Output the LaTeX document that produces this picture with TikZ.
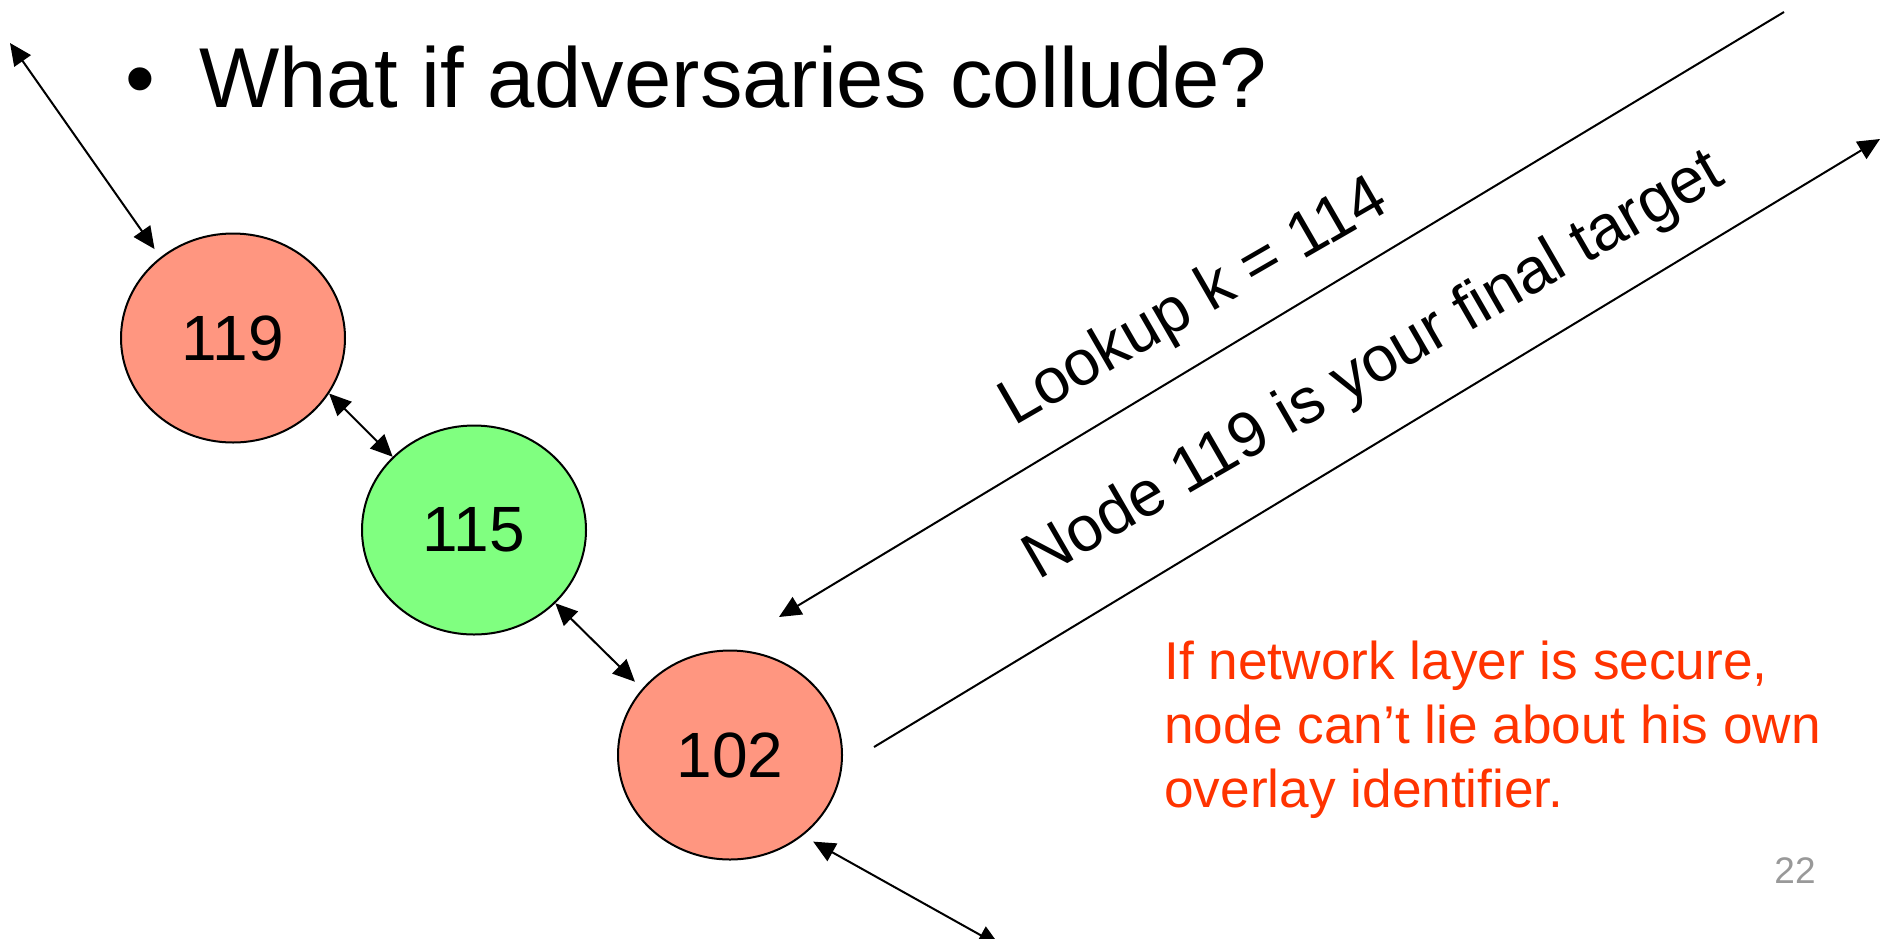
\documentclass[tikz,border=0pt]{standalone}
\usepackage{fontspec}
\setmainfont{Liberation Sans}
\usetikzlibrary{arrows.meta,shapes.geometric}
\definecolor{peerred}{HTML}{FF9680}
\definecolor{peergreen}{HTML}{80FF80}
\definecolor{notered}{HTML}{FF3300}
\definecolor{pagegray}{HTML}{999999}
\begin{document}
\begin{tikzpicture}[x=0.5pt,y=-0.5pt,
  peer/.style={ellipse, draw, line width=1pt, minimum width=112pt,
    minimum height=104.5pt, inner sep=0pt, font=\fontsize{32}{38}\selectfont},
  tip/.style={Triangle[length=11pt,width=10pt]},
  link/.style={line width=1pt, {Triangle[length=11pt,width=10pt]}-{Triangle[length=11pt,width=10pt]}},
  msg/.style={line width=1pt, -{Triangle[length=11pt,width=10pt]}},
  msgtext/.style={inner sep=0pt, anchor=base west, rotate=30, font=\fontsize{32}{38}\selectfont},
  heading/.style={inner sep=0pt, anchor=base west, font=\fontsize{42.5}{51}\selectfont},
  notetext/.style={inner sep=0pt, anchor=base west, text=notered, font=\fontsize{26.6}{32}\selectfont}]
\useasboundingbox (0,0) rectangle (1893,938);
\clip (0,0) rectangle (1893,938);

% bullet line
\node[heading] (bullet) at (125,107) {•};
\node[heading] (title) at (199,107) {What if adversaries collude?};

% overlay peers
\node[peer, fill=peerred] (n119) at (233,338) {119};
\node[peer, fill=peergreen] (n115) at (474,530) {115};
\node[peer, fill=peerred] (n102) at (730,755) {102};

% ring links
\coordinate (ringup) at (10,43);
\coordinate (ringdown) at (1000,946);
\draw[link, shorten >=5pt] (ringup) -- (n119.132);
\draw[link] (n119.-30) -- (n115.138);
\draw[link, shorten >=5pt] (n115.-42) -- (n102.143);
\draw[link, shorten <=6pt] (n102.-48) -- (ringdown);

% lookup request and forged reply
\coordinate (askfrom) at (1784,12);
\coordinate (askto) at (779,617);
\coordinate (replyfrom) at (874,747);
\coordinate (replyto) at (1880,139);
\draw[msg] (askfrom) -- (askto);
\draw[msg] (replyfrom) -- (replyto);
\node[msgtext] (ask) at (1014,427) {Lookup k = 114};
\node[msgtext] (reply) at (1038,581) {Node 119 is your final target};

% remark
\node[notetext] (note1) at (1164,679) {If network layer is secure,};
\node[notetext] (note2) at (1164,743) {node can’t lie about his own};
\node[notetext] (note3) at (1164,807) {overlay identifier.};

% slide number
\node[inner sep=0pt, anchor=base east, text=pagegray, font=\fontsize{18.5}{22}\selectfont] (pageno) at (1816,883) {22};
\end{tikzpicture}
\end{document}
